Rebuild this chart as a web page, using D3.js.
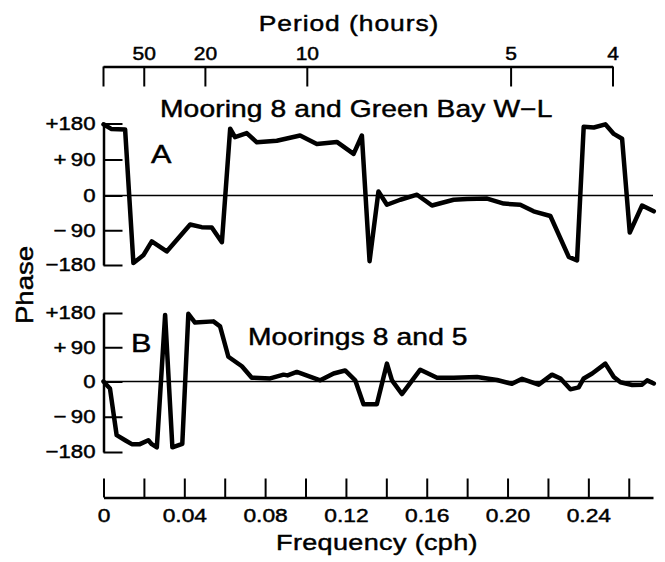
<!DOCTYPE html>
<html>
  <head>
    <meta charset="utf-8">
    <script src="https://d3js.org/d3.v7.min.js"></script>
    <style>
      body { margin: 0; background: #fff; }
      svg { display: block; }
      text { font-family: 'Liberation Sans', Arial, Helvetica, sans-serif; fill: #000; stroke: #000; stroke-width: 0.45px; }
    </style>
    <title>Phase vs frequency</title>
  </head>
  <body>
    <svg></svg>

    <script type="text/javascript">
      // panel A: Mooring 8 and Green Bay W-L
      const freqA = [0, 0.004, 0.0107, 0.0148, 0.0197, 0.0239, 0.0313, 0.0429, 0.0486, 0.0536,
        0.0586, 0.0627, 0.0651, 0.0709, 0.0759, 0.0858, 0.0973, 0.1056, 0.1155, 0.1238,
        0.1279, 0.1317, 0.1361, 0.1403, 0.1469, 0.1552, 0.1626, 0.1733, 0.18, 0.1899,
        0.1981, 0.2063, 0.2129, 0.2212, 0.2303, 0.2344, 0.2377, 0.2427, 0.2484, 0.2526,
        0.2567, 0.2605, 0.2666, 0.2724]
      const phaseA = [178, 166, 165, -175, -155, -119, -145, -75, -82, -83,
        -121, 167, 146, 156, 133, 137, 150, 129, 134, 104,
        150, -170, 10, -24, -11, 2, -26, -11, -9, -8,
        -21, -24, -41, -53, -159, -168, 172, 170, 178, 154,
        142, -96, -26, -41]

      // panel B: Moorings 8 and 5
      const freqB = [0, 0.0032, 0.0065, 0.0107, 0.014, 0.018, 0.0222, 0.0239, 0.0264, 0.0305,
        0.0341, 0.039, 0.042, 0.0453, 0.0544, 0.0577, 0.0618, 0.0685, 0.0734,
        0.0825, 0.0891, 0.0911, 0.0957, 0.1073, 0.1139, 0.1196, 0.1246, 0.1287, 0.1353,
        0.1403, 0.1428, 0.1477, 0.1568, 0.1651, 0.1733, 0.1849, 0.1948, 0.2022, 0.2072,
        0.2154, 0.222, 0.2262, 0.2311, 0.2352, 0.2377, 0.2419, 0.2484, 0.2526, 0.2559,
        0.2617, 0.2666, 0.2691, 0.2724]
      const phaseB = [0, -18, -137, -150, -160, -160, -150, -160, -168, 175,
        -168, -159, 178, 155, 158, 145, 65, 40, 10,
        8, 18, 16, 25, 3, 21, 29, 3, -58, -58,
        47, 3, -32, 31, 10, 10, 12, 4, -6, 7,
        -8, 18, 8, -20, -15, 8, 21, 47, 12, -2,
        -9, -8, 3, -5]

      const phaseTicks = [180, 90, 0, -90, -180]
      const phaseTickLabels = ['+180', '+\u200990', '0', '\u2212\u200990', '\u2212180']
      const freqTicks = [0, 0.02, 0.04, 0.06, 0.08, 0.10, 0.12, 0.14, 0.16, 0.18, 0.20, 0.22, 0.24, 0.26]
      const freqLabelled = [0, 0.04, 0.08, 0.12, 0.16, 0.20, 0.24]
      const periodHours = [50, 20, 10, 5, 4]

      const width = 665
      const height = 562
      // the printed lettering is wider than Helvetica/Arial
      const sx = 1.2

      const svg =
        d3.select('svg')
          .attr('width', width)
          .attr('height', height)

      const x =
        d3.scaleLinear()
          .domain([0, 0.272])
          .range([103.5, 653])

      const xTop =
        d3.scaleLinear()
          .domain([0, 0.25])
          .range([103, 612.5])

      const panels = [
        {data: d3.zip(freqA, phaseA), title: 'Mooring 8 and Green Bay W\u2212L', letter: 'A',
         y: d3.scaleLinear().domain([-180, 0, 180]).range([265, 195.5, 123.5]),
         titleX: 160, titleY: 117, letterX: 151, letterY: 163},
        {data: d3.zip(freqB, phaseB), title: 'Moorings 8 and 5', letter: 'B',
         y: d3.scaleLinear().domain([-180, 0, 180]).range([452, 381.5, 313]),
         titleX: 248, titleY: 345, letterX: 131, letterY: 351.5}
      ]

      const label = (tx, ty, size, str, anchor = 'start', extra = '', spacing = 0) =>
        svg.append('text')
          .attr('transform', `translate(${tx},${ty}) ${extra} scale(${sx},1)`)
          .attr('text-anchor', anchor)
          .style('font-size', size + 'px')
          .style('letter-spacing', spacing + 'px')
          .text(str)

      const styleAxis = (g, size) => {
        g.attr('font-family', null).attr('font-size', null)
        g.select('.domain').attr('stroke-width', 2.5)
        g.selectAll('.tick line').attr('stroke-width', 2)
        g.selectAll('.tick text')
          .style('font-size', size + 'px')
          .each(function() {
            const t = d3.select(this)
            t.attr('x', (+t.attr('x') || 0) / sx)
             .attr('transform', `scale(${sx},1)`)
          })
      }

      panels.forEach(p => {
        // zero line
        svg.append('line')
          .attr('x1', x(0))
          .attr('x2', x(0.272))
          .attr('y1', p.y(0))
          .attr('y2', p.y(0))
          .attr('stroke', '#000')
          .attr('stroke-width', 1.3)

        svg.append('g')
          .attr('transform', `translate(${x(0)},0)`)
          .call(
            d3.axisLeft(p.y)
              .tickValues(phaseTicks)
              .tickFormat((d, i) => phaseTickLabels[i])
              .tickSizeInner(-19)
              .tickSizeOuter(0)
              .tickPadding(8)
          )
          .call(g => styleAxis(g, 18.5))

        svg.append('path')
          .datum(p.data)
          .attr('fill', 'none')
          .attr('stroke', '#000')
          .attr('stroke-width', 4.5)
          .attr('stroke-linejoin', 'round')
          .attr('stroke-linecap', 'round')
          .attr('d', d3.line().x(d => x(d[0])).y(d => p.y(d[1])))

        label(p.titleX, p.titleY, 23.5, p.title, 'start', '', 0.1)
        label(p.letterX, p.letterY, 25.5, p.letter)
      })

      // bottom frequency axis
      svg.append('g')
        .attr('transform', 'translate(0,497.5)')
        .call(
          d3.axisBottom(x)
            .tickValues(freqTicks)
            .tickFormat(d => freqLabelled.some(v => Math.abs(v - d) < 1e-9) ? (d === 0 ? '0' : d3.format('.2f')(d)) : '')
            .tickSizeInner(-19)
            .tickSizeOuter(0)
            .tickPadding(11)
        )
        .call(g => styleAxis(g, 19))

      label(377, 550, 22.5, 'Frequency (cph)', 'middle', '', 0.3)

      // top period axis
      svg.append('g')
        .attr('transform', 'translate(0,66.5)')
        .call(
          d3.axisTop(xTop)
            .tickValues([0].concat(periodHours.map(h => 1 / h)))
            .tickFormat(d => d === 0 ? '' : String(Math.round(1 / d)))
            .tickSizeInner(-20)
            .tickSizeOuter(0)
            .tickPadding(7)
        )
        .call(g => styleAxis(g, 17.5))

      label(349, 31, 22, 'Period (hours)', 'middle', '', 0.8)

      label(33, 285, 23, 'Phase', 'middle', 'rotate(-90)')
    </script>
  </body>
</html>
